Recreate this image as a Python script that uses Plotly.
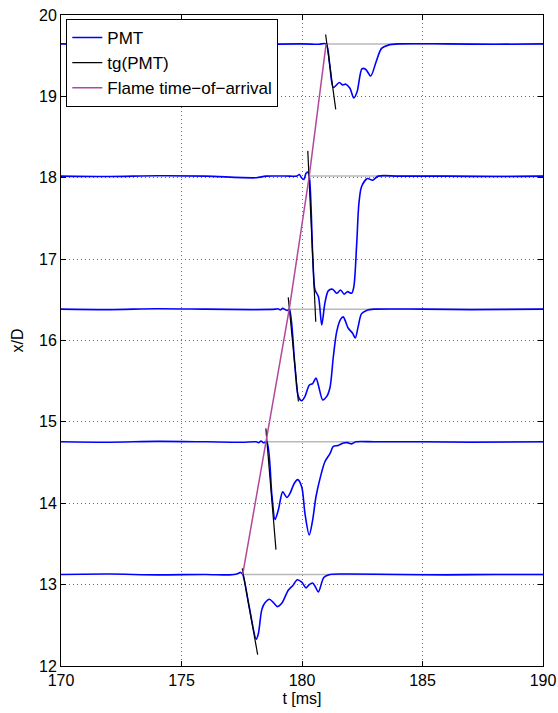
import plotly.graph_objects as go

# ---- data ----
t1 = [170, 172, 174, 176, 177.0, 177.3, 177.45, 177.54, 177.8, 178.10, 178.19, 178.33, 178.45, 178.65, 178.81,
      178.98, 179.16, 179.43, 179.62, 179.81, 179.99, 180.17, 180.30, 180.44, 180.56, 180.68, 180.91, 181.16,
      182, 184, 186, 188, 190]
y1 = [13.125, 13.13, 13.12, 13.125, 13.12, 13.13, 13.15, 13.125, 12.74, 12.33, 12.40, 12.69, 12.77, 12.82, 12.78,
      12.73, 12.77, 12.93, 12.99, 13.06, 13.03, 12.96, 13.00, 13.02, 12.97, 12.91, 13.09, 13.125,
      13.13, 13.125, 13.12, 13.125, 13.125]

t2 = [170, 172, 174, 176, 177.5, 178.1, 178.2, 178.3, 178.4, 178.54, 178.75, 178.88, 179.02, 179.20, 179.37,
      179.50, 179.67, 179.82, 179.99, 180.12, 180.30, 180.44, 180.58, 180.77, 180.95, 181.16, 181.30, 181.50,
      181.71, 181.88, 182.06, 182.24, 183, 185, 187, 190]
y2 = [14.755, 14.75, 14.76, 14.755, 14.75, 14.755, 14.745, 14.765, 14.745, 14.755, 14.10, 13.80, 13.92, 14.14, 14.07,
      14.12, 14.24, 14.29, 14.20, 13.88, 13.61, 13.79, 14.08, 14.33, 14.51, 14.61, 14.70, 14.71,
      14.74, 14.745, 14.73, 14.755, 14.755, 14.755, 14.75, 14.755]

t3 = [170, 172, 174, 176, 178, 178.9, 179.0, 179.1, 179.2, 179.3, 179.4, 179.48, 179.7, 179.85, 179.99,
      180.12, 180.30, 180.44, 180.58, 180.68, 180.86, 181.02, 181.16, 181.30, 181.44, 181.60, 181.71, 181.92,
      182.10, 182.21, 182.33, 182.47, 182.68, 183, 185, 187, 190]
y3 = [16.385, 16.38, 16.39, 16.385, 16.38, 16.385, 16.39, 16.375, 16.395, 16.38, 16.37, 16.385, 15.71, 15.31, 15.26,
      15.31, 15.45, 15.47, 15.54, 15.45, 15.27, 15.31, 15.42, 15.80, 16.11, 16.26, 16.29, 16.15,
      16.09, 16.03, 16.17, 16.33, 16.37, 16.385, 16.385, 16.38, 16.385]

t4 = [170, 172, 174, 176, 178.1, 178.5, 179.5, 179.78, 179.89, 179.98, 180.08, 180.16, 180.23, 180.30, 180.45,
      180.54, 180.68, 180.82, 180.95, 181.09, 181.27, 181.44, 181.60, 181.75, 181.88, 182.06, 182.15, 182.27,
      182.36, 182.47, 182.71, 182.93, 183.16, 184, 186, 188, 190]
y4 = [18.02, 18.015, 18.025, 18.02, 18.0, 18.02, 18.02, 18.02, 18.04, 18.00, 17.98, 18.05, 18.07, 18.02, 17.0,
      16.62, 16.54, 16.19, 16.46, 16.61, 16.63, 16.58, 16.62, 16.57, 16.60, 16.58, 16.66, 17.19,
      17.68, 17.89, 17.99, 17.97, 18.02, 18.02, 18.02, 18.015, 18.02]

t5 = [170, 172, 174, 176, 178, 180, 180.7, 181.0, 181.15, 181.30, 181.55, 181.69, 181.82, 181.99, 182.15,
      182.29, 182.49, 182.65, 182.85, 183.07, 183.30, 183.58, 184, 186, 188, 190]
y5 = [19.645, 19.64, 19.65, 19.645, 19.64, 19.645, 19.64, 19.645, 19.39, 19.11, 19.17, 19.14, 19.15, 19.10, 18.98,
      19.06, 19.34, 19.33, 19.25, 19.42, 19.59, 19.63, 19.645, 19.645, 19.64, 19.645]

# tangent lines tg(PMT): start and end points
tg_t_top = [177.52, 178.50, 179.43, 180.24, 180.98]
tg_y_top = [13.20, 14.92, 16.53, 18.33, 19.76]
tg_t_bot = [178.16, 178.92, 179.85, 180.57, 181.40]
tg_y_bot = [12.14, 13.43, 15.25, 16.23, 18.84]

# flame time of arrival
flame_t = [177.54, 178.51, 179.47, 180.30, 181.0]
flame_y = [13.125, 14.755, 16.385, 18.02, 19.645]

x_ticks = [170, 175, 180, 185, 190]
y_ticks = [12, 13, 14, 15, 16, 17, 18, 19, 20]

FONT = "Liberation Sans, Arial, Helvetica, sans-serif"
BLUE = "rgb(0,0,255)"
MAG = "rgb(178,72,156)"

fig = go.Figure()

# gray baselines from arrival point to the right edge
for ft, fy in zip(flame_t, flame_y):
    fig.add_trace(go.Scatter(x=[ft, x_ticks[-1]], y=[fy, fy], mode="lines",
                             line=dict(color="rgb(185,185,185)", width=1.5),
                             showlegend=False, hoverinfo="skip"))

for i, (tt, yy) in enumerate([(t1, y1), (t2, y2), (t3, y3), (t4, y4), (t5, y5)]):
    fig.add_trace(go.Scatter(x=tt, y=yy, mode="lines", name="PMT", legendgroup="g",
                             showlegend=(i == 0),
                             line=dict(color=BLUE, width=1.6, shape="spline", smoothing=0.8)))

for i in range(len(tg_t_top)):
    fig.add_trace(go.Scatter(x=[tg_t_top[i], tg_t_bot[i]], y=[tg_y_top[i], tg_y_bot[i]],
                             mode="lines", name="tg(PMT)", legendgroup="g", showlegend=(i == 0),
                             line=dict(color="black", width=1.2)))

fig.add_trace(go.Scatter(x=flame_t, y=flame_y, mode="lines", name="Flame time\u2212of\u2212arrival",
                         legendgroup="g", line=dict(color=MAG, width=1.5)))

axis_common = dict(
    showline=True, linecolor="black", linewidth=1, mirror="ticks",
    ticks="inside", ticklen=5, tickcolor="black", tickwidth=1,
    showgrid=True, gridcolor="rgb(110,110,110)", griddash="1px,3px", gridwidth=1,
    zeroline=False, automargin=False,
    tickfont=dict(size=16, color="black", family=FONT),
)

fig.update_xaxes(range=[170, 190], tickvals=x_ticks, ticktext=[str(v) for v in x_ticks],
                 title=dict(text="t [ms]", font=dict(size=16, color="black", family=FONT), standoff=4),
                 **axis_common)
fig.update_yaxes(range=[12, 20], tickvals=y_ticks, ticktext=[str(v) for v in y_ticks],
                 title=dict(text="x/D", font=dict(size=16, color="black", family=FONT), standoff=11),
                 **axis_common)

fig.update_layout(
    width=558, height=713,
    margin=dict(l=61, r=15, t=15, b=47),
    plot_bgcolor="white", paper_bgcolor="white",
    font=dict(family=FONT, size=16, color="black"),
    legend=dict(x=0.011, y=0.994, xanchor="left", yanchor="top",
                bgcolor="white", bordercolor="black", borderwidth=1,
                font=dict(size=17, family=FONT, color="black"),
                tracegroupgap=0, itemwidth=30),
    showlegend=True,
)

fig.write_html("out.html",
               config={"displayModeBar": False},
               post_script="document.body.style.margin='0px';"
                           "document.documentElement.style.overflow='hidden';"
                           "document.body.style.overflow='hidden';")
